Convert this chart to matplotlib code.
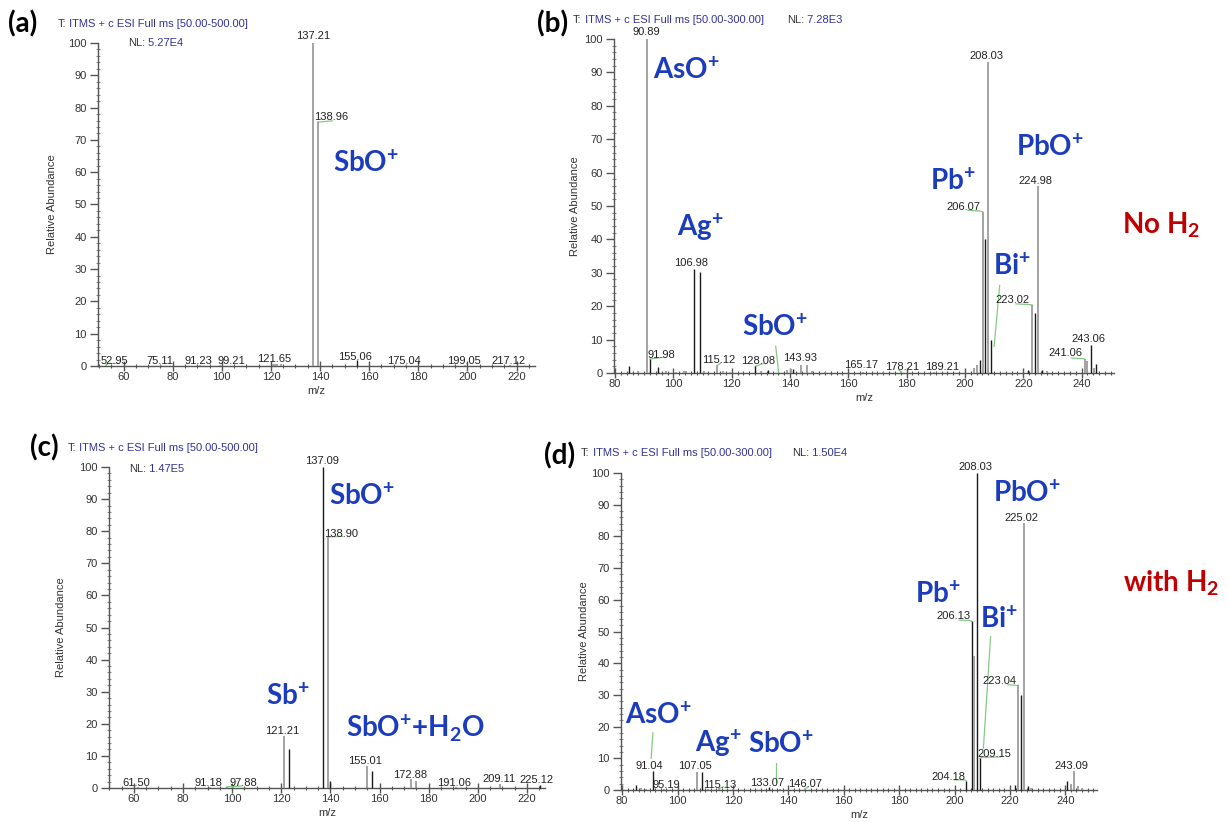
import matplotlib.pyplot as plt
from matplotlib.ticker import MultipleLocator

FIG_W, FIG_H = 1228, 822

ION_BLUE = "#1c3cbe"
COND_RED = "#c00000"
HEAD_BLUE = "#33339a"
TEXT_GREY = "#333333"
AXIS_GREY = "#555555"
LEADER_GREEN = "#86c986"
SHADES = {"k": ("#1a1a1a", 1.0), "g": ("#9c9c9c", 1.3)}

LABEL_FONT = ["Liberation Sans", "DejaVu Sans"]
ION_FONT = ["Lato", "DejaVu Sans"]

# ---- (a) no H2, full ms 50-500 ----
A_MZ = [52.95, 75.11, 91.23, 99.21, 121.0, 121.65, 122.6, 124.0, 137.21, 138.96, 155.06, 175.04, 199.05, 217.12]
A_INT = [0.4, 0.3, 0.4, 0.4, 0.5, 0.6, 0.5, 0.5, 100.0, 75.5, 1.8, 0.4, 0.3, 0.3]
A_SHADE = ["g", "g", "g", "g", "g", "g", "g", "g", "g", "g", "k", "g", "g", "g"]
A_TAGGED = [52.95, 75.11, 91.23, 99.21, 121.65, 137.21, 138.96, 155.06, 175.04, 199.05, 217.12]
A_IONS = [r"$\mathregular{SbO^{+}}$"]

# ---- (b) no H2, full ms 50-300 ----
B_MZ = [84.9, 88.0, 90.89, 91.98, 94.9, 97.5, 101.0, 103.5, 104.5, 106.98, 108.97, 110.5,
        115.12, 117.0, 119.5, 128.08, 130.0, 132.6, 138.9, 140.5, 141.2, 143.93, 145.9, 147.5,
        152.0, 165.17, 172.0, 178.21, 189.21, 203.1, 204.0, 205.1, 206.07, 207.0, 208.03, 209.0,
        221.5, 223.02, 224.0, 224.98, 226.5, 228.0, 241.06, 241.9, 243.06, 244.1, 245.0]
B_INT = [2.1, 0.6, 100.0, 4.2, 1.8, 0.5, 0.4, 0.6, 0.6, 31.1, 30.2, 0.5,
         2.3, 0.5, 0.4, 2.0, 0.6, 1.0, 1.0, 1.1, 1.3, 2.5, 2.3, 0.5,
         0.4, 0.4, 0.3, 0.4, 0.3, 1.4, 2.5, 3.8, 48.3, 40.2, 93.0, 9.8,
         1.0, 20.4, 18.0, 56.1, 1.0, 0.5, 4.2, 3.5, 8.5, 1.5, 2.6]
B_SHADE = ["k", "g", "g", "k", "k", "g", "g", "g", "g", "k", "k", "g",
           "g", "g", "g", "k", "g", "k", "g", "g", "k", "g", "g", "g",
           "g", "g", "g", "g", "g", "g", "g", "k", "g", "k", "g", "k",
           "k", "g", "k", "g", "k", "g", "g", "g", "k", "g", "k"]
B_TAGGED = [90.89, 91.98, 106.98, 115.12, 128.08, 143.93, 165.17, 178.21, 189.21,
            206.07, 208.03, 223.02, 224.98, 241.06, 243.06]
B_IONS = [r"$\mathregular{AsO^{+}}$", r"$\mathregular{Ag^{+}}$", r"$\mathregular{SbO^{+}}$",
          r"$\mathregular{Pb^{+}}$", r"$\mathregular{PbO^{+}}$", r"$\mathregular{Bi^{+}}$"]

# ---- (c) with H2, full ms 50-500 ----
C_MZ = [61.50, 91.18, 97.88, 100.5, 121.21, 123.2, 137.09, 138.90, 140.0, 155.01, 157.0,
        172.88, 175.0, 191.06, 209.11, 225.12]
C_INT = [0.3, 0.4, 0.4, 0.4, 16.3, 12.2, 100.0, 78.2, 2.1, 7.0, 5.2,
         2.8, 2.1, 0.4, 1.3, 1.0]
C_SHADE = ["g", "g", "g", "g", "g", "k", "k", "g", "k", "g", "k",
           "g", "g", "g", "g", "k"]
C_TAGGED = [61.50, 91.18, 97.88, 121.21, 137.09, 138.90, 155.01, 172.88, 191.06, 209.11, 225.12]
C_IONS = [r"$\mathregular{SbO^{+}}$", r"$\mathregular{Sb^{+}}$",
          r"$\mathregular{SbO^{+}}$+H$\mathregular{_2}$O"]

# ---- (d) with H2, full ms 50-300 ----
D_MZ = [85.0, 86.8, 88.5, 91.04, 95.19, 107.05, 108.96, 111.0, 115.13, 120.0, 133.07, 137.0,
        146.07, 204.18, 206.13, 207.0, 208.03, 209.15, 221.8, 223.04, 224.0, 225.02, 226.4,
        227.4, 240.6, 241.9, 243.09, 244.5, 246.0]
D_INT = [1.5, 0.6, 0.4, 6.0, 0.4, 5.8, 5.7, 0.4, 0.5, 0.3, 1.0, 0.4,
         0.4, 2.9, 53.2, 42.3, 100.0, 10.0, 1.6, 33.0, 30.0, 84.2, 1.2,
         0.7, 2.7, 1.8, 6.1, 1.2, 0.5]
D_SHADE = ["k", "g", "g", "k", "g", "g", "k", "g", "g", "g", "k", "g",
           "g", "k", "k", "g", "k", "k", "k", "g", "k", "g", "k",
           "g", "k", "g", "g", "g", "g"]
D_TAGGED = [91.04, 95.19, 107.05, 115.13, 133.07, 146.07, 204.18, 206.13, 208.03, 209.15,
            223.04, 225.02, 243.09]
D_IONS = B_IONS

PANELS = [
    {
        "letter": "(a)", "scan": "[50.00-500.00]", "nl": "5.27E4",
        "mz": A_MZ, "inten": A_INT, "shade": A_SHADE, "tagged": A_TAGGED, "ions": A_IONS,
        "rect_px": (98, 43, 535, 366), "xlim": (49.6, 227.5), "xminor": 5,
        "letter_px": (8, 24), "head_px": (58, 24), "nl_px": (128, 43), "ylab_px": 59,
        "tag_pos": {52.95: (56.2, 0.6), 75.11: (74.9, 0.6), 91.23: (90.5, 0.6), 99.21: (103.7, 0.6),
                    121.65: (121.2, 1.1), 138.96: (144.5, 76.1), 155.06: (154.3, 2.0),
                    175.04: (174.3, 0.6), 199.05: (198.5, 0.6), 217.12: (216.7, 0.6)},
        "leaders": [[(52.95, 0.4), (54.0, 0.8), (57.8, 0.8)],
                    [(138.96, 75.5), (145.0, 75.9)]],
        "ion_pos": [(145.1, 62.8)],
    },
    {
        "letter": "(b)", "scan": "[50.00-300.00]", "nl": "7.28E3",
        "mz": B_MZ, "inten": B_INT, "shade": B_SHADE, "tagged": B_TAGGED, "ions": B_IONS,
        "rect_px": (614, 39, 1114, 373), "xlim": (79.65, 251.1), "xminor": 2,
        "letter_px": (537, 24), "head_px": (573, 20), "nl_px": (787, 20), "ylab_px": 582,
        "tag_pos": {91.98: (96.0, 4.6), 106.98: (106.2, 32.0), 115.12: (115.4, 3.0),
                    128.08: (129.2, 2.8), 143.93: (143.4, 3.6), 165.17: (164.3, 1.5),
                    178.21: (178.4, 1.0), 189.21: (192.3, 1.0), 206.07: (199.6, 48.9),
                    208.03: (207.3, 94.1), 223.02: (216.3, 20.9), 224.98: (224.0, 56.7),
                    241.06: (234.3, 5.0), 243.06: (242.5, 9.3)},
        "leaders": [[(91.98, 4.2), (96.5, 4.7)],
                    [(115.12, 2.3), (116.3, 3.0)],
                    [(128.08, 2.0), (130.8, 2.8)],
                    [(178.21, 0.3), (177.3, 0.9)],
                    [(201.0, 48.7), (205.0, 48.5), (206.07, 48.3)],
                    [(217.5, 20.7), (221.8, 20.5), (223.02, 20.4)],
                    [(236.5, 4.5), (240.3, 4.3), (241.06, 4.2)],
                    [(135.1, 8.0), (136.1, 0.2)],
                    [(211.9, 26.2), (210.0, 8.0)]],
        "ion_pos": [(93.0, 90.6), (101.1, 43.4), (123.7, 13.5), (187.9, 57.4), (217.5, 67.4), (209.5, 31.9)],
        "cond": (r"No H$\mathregular{_2}$", 1122, 225),
    },
    {
        "letter": "(c)", "scan": "[50.00-500.00]", "nl": "1.47E5",
        "mz": C_MZ, "inten": C_INT, "shade": C_SHADE, "tagged": C_TAGGED, "ions": C_IONS,
        "rect_px": (109, 467, 545, 788), "xlim": (49.9, 227.3), "xminor": 5,
        "letter_px": (30, 448), "head_px": (68, 448), "nl_px": (129, 469), "ylab_px": 68,
        "tag_pos": {61.50: (60.8, 0.6), 91.18: (90.3, 0.6), 97.88: (104.4, 0.6),
                    121.21: (120.4, 16.9), 137.09: (136.4, 101.0), 138.90: (144.4, 78.3),
                    155.01: (154.1, 7.5), 172.88: (172.3, 3.1), 191.06: (190.5, 0.6),
                    209.11: (208.4, 1.8), 225.12: (223.9, 1.6)},
        "leaders": [[(97.88, 0.4), (104.0, 0.6)],
                    [(138.90, 78.2), (145.0, 78.4)]],
        "ion_pos": [(139.3, 90.7), (113.9, 28.4), (146.3, 18.6)],
    },
    {
        "letter": "(d)", "scan": "[50.00-300.00]", "nl": "1.50E4",
        "mz": D_MZ, "inten": D_INT, "shade": D_SHADE, "tagged": D_TAGGED, "ions": D_IONS,
        "rect_px": (621, 473, 1097, 790), "xlim": (79.6, 251.4), "xminor": 2,
        "letter_px": (544, 456), "head_px": (581, 453), "nl_px": (792, 453), "ylab_px": 591,
        "tag_pos": {91.04: (89.9, 6.5), 95.19: (96.0, 0.7), 107.05: (106.2, 6.5),
                    115.13: (115.2, 0.7), 133.07: (132.4, 1.2), 146.07: (146.2, 1.0),
                    204.18: (197.7, 3.2), 206.13: (199.7, 53.8), 208.03: (207.4, 100.9),
                    209.15: (214.2, 10.4), 223.04: (216.3, 33.3), 225.02: (224.2, 84.9),
                    243.09: (242.2, 6.5)},
        "leaders": [[(115.13, 0.5), (116.5, 1.0)],
                    [(146.07, 0.4), (147.2, 1.0)],
                    [(204.18, 2.9), (203.5, 3.2), (199.9, 3.2)],
                    [(206.13, 53.2), (205.5, 53.5), (201.6, 53.6)],
                    [(209.15, 10.0), (209.7, 10.3), (216.5, 10.4)],
                    [(223.04, 33.0), (222.3, 33.0), (219.2, 33.2)],
                    [(91.1, 18.0), (90.5, 10.0)],
                    [(135.7, 8.4), (135.7, 2.6)],
                    [(213.0, 48.4), (210.4, 13.2)]],
        "ion_pos": [(81.0, 23.4), (106.4, 14.6), (125.5, 14.2), (185.8, 61.6), (214.0, 93.5), (209.3, 53.9)],
        "cond": (r"with H$\mathregular{_2}$", 1123, 583),
    },
]


def px_to_fig(x, y):
    return x / FIG_W, 1 - y / FIG_H


def header(fig, ax, x_px, y_px, parts):
    # first chunk anchored in figure pixels, the rest chained onto it
    fx, fy = px_to_fig(x_px, y_px)
    prev = fig.text(fx, fy, parts[0][0], color=parts[0][1], fontsize=8,
                    family=LABEL_FONT, ha="left", va="center")
    for text, color in parts[1:]:
        prev = ax.annotate(text, xy=(1, 0), xycoords=prev, ha="left", va="bottom",
                           color=color, fontsize=8, family=LABEL_FONT, annotation_clip=False)


def draw_panel(fig, p):
    x0, y0, x1, y1 = p["rect_px"]
    ax = fig.add_axes([x0 / FIG_W, 1 - y1 / FIG_H, (x1 - x0) / FIG_W, (y1 - y0) / FIG_H])
    ax.set_xlim(*p["xlim"])
    ax.set_ylim(0, 100)

    for mz, h, s in zip(p["mz"], p["inten"], p["shade"]):
        color, lw = SHADES[s]
        ax.vlines(mz, 0, h, colors=color, linewidth=lw, clip_on=False, zorder=3)

    for line in p["leaders"]:
        xs, ys = zip(*line)
        ax.plot(xs, ys, color=LEADER_GREEN, linewidth=0.9, clip_on=False, zorder=2)

    peaks = dict(zip(p["mz"], p["inten"]))
    for mz in p["tagged"]:
        tx, ty = p["tag_pos"].get(mz, (mz, peaks[mz] + 1.2))
        ax.text(tx, ty, f"{mz:.2f}", ha="center", va="baseline", fontsize=8,
                family=LABEL_FONT, color="#222222", clip_on=False, zorder=4)

    for text, (tx, ty) in zip(p["ions"], p["ion_pos"]):
        ax.text(tx, ty, text, ha="left", va="center", fontsize=20, fontweight="bold",
                family=ION_FONT, color=ION_BLUE, zorder=5)

    for side in ("top", "right"):
        ax.spines[side].set_visible(False)
    for side in ("left", "bottom"):
        ax.spines[side].set_color(AXIS_GREY)
        ax.spines[side].set_linewidth(1.0)

    ax.xaxis.set_major_locator(MultipleLocator(20))
    ax.xaxis.set_minor_locator(MultipleLocator(p["xminor"]))
    ax.yaxis.set_major_locator(MultipleLocator(10))
    ax.yaxis.set_minor_locator(MultipleLocator(2))
    ax.tick_params(axis="x", which="major", direction="inout", length=7, width=1.0,
                   color=AXIS_GREY, labelsize=8, labelcolor=TEXT_GREY, pad=1)
    ax.tick_params(axis="x", which="minor", direction="inout", length=3, width=0.8, color=AXIS_GREY)
    ax.tick_params(axis="y", which="major", direction="out", length=6, width=1.0,
                   color=AXIS_GREY, labelsize=8, labelcolor=TEXT_GREY, pad=2)
    ax.tick_params(axis="y", which="minor", direction="inout", length=3, width=0.8, color="#8a8a8a")
    for lab in ax.get_xticklabels() + ax.get_yticklabels():
        lab.set_family(LABEL_FONT)

    h_px = y1 - y0
    ax.set_xlabel("m/z", fontsize=8, color=TEXT_GREY, family=LABEL_FONT)
    ax.xaxis.set_label_coords(0.5, -20 / h_px)
    ax.set_ylabel("Relative Abundance", fontsize=8, color=TEXT_GREY, family=LABEL_FONT)
    ax.yaxis.set_label_coords((p["ylab_px"] - x0) / (x1 - x0) - 0.005, 0.5)

    lx, ly = px_to_fig(*p["letter_px"])
    fig.text(lx, ly, p["letter"], fontsize=20, fontweight="bold", family=ION_FONT,
             color="black", ha="left", va="center")
    header(fig, ax, *p["head_px"], [("T:", TEXT_GREY), (" ITMS + c ESI Full ms " + p["scan"], HEAD_BLUE)])
    header(fig, ax, *p["nl_px"], [("NL:", TEXT_GREY), (" " + p["nl"], HEAD_BLUE)])

    if "cond" in p:
        text, cx, cy = p["cond"]
        fx, fy = px_to_fig(cx, cy)
        fig.text(fx, fy, text, fontsize=20, fontweight="bold", family=ION_FONT,
                 color=COND_RED, ha="left", va="center")
    return ax


def main():
    fig = plt.figure(figsize=(FIG_W / 100, FIG_H / 100), dpi=100)
    fig.patch.set_facecolor("white")
    for p in PANELS:
        draw_panel(fig, p)
    fig.savefig("out.png", dpi=100, facecolor="white")


if __name__ == "__main__":
    main()
